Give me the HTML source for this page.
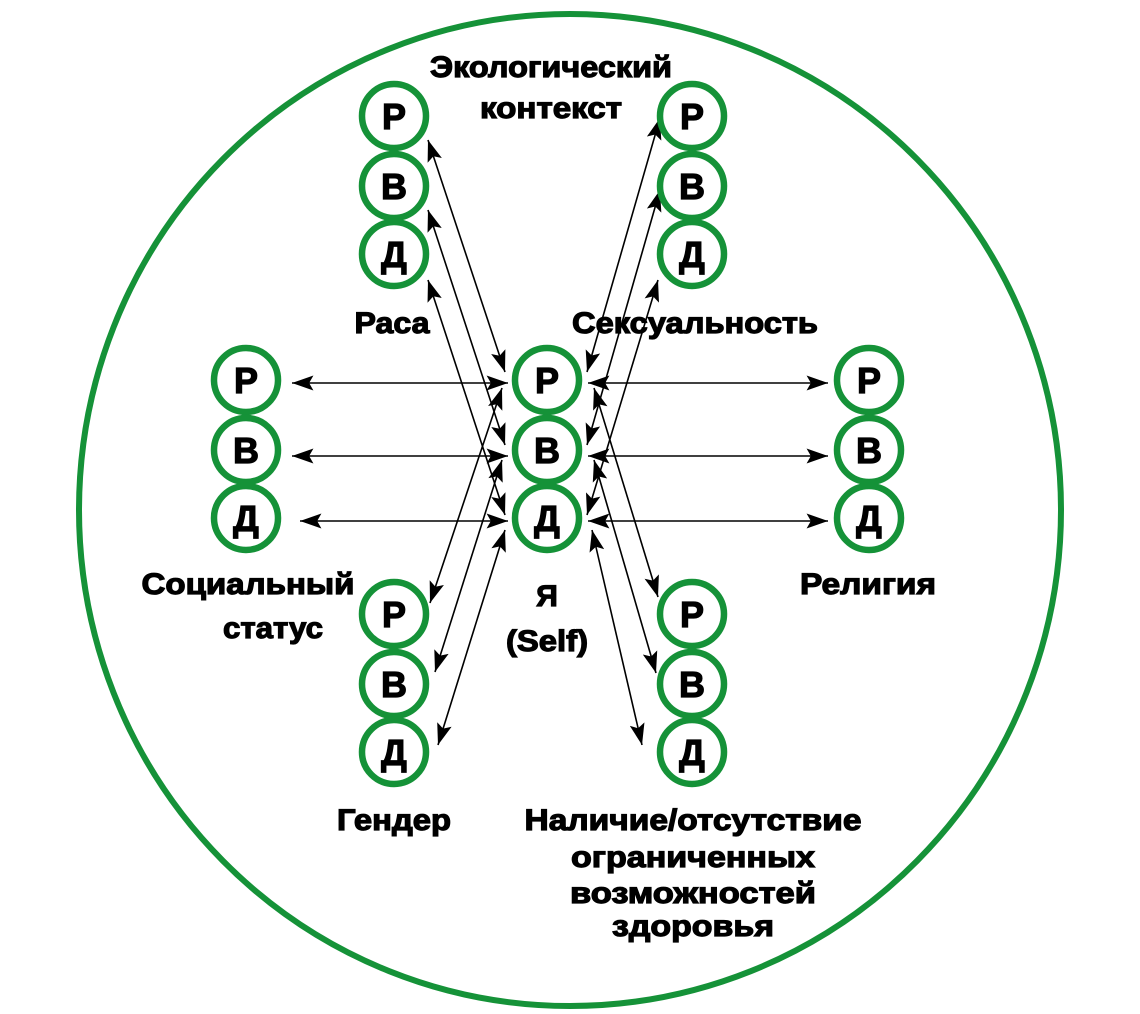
<!DOCTYPE html>
<html><head><meta charset="utf-8"><style>
html,body{margin:0;padding:0;background:#fff;}
svg{display:block}
text{font-family:"Liberation Sans","DejaVu Sans",sans-serif;font-weight:bold;fill:#000;stroke:#000;stroke-width:1.2;}
</style></head><body>
<svg width="1140" height="1014" viewBox="0 0 1140 1014" xmlns="http://www.w3.org/2000/svg">
<defs>
<marker id="a" viewBox="0 0 20 14" refX="20" refY="7" markerWidth="22" markerHeight="15" markerUnits="userSpaceOnUse" orient="auto-start-reverse">
<path d="M0,0 L20,7 L0,14 L4,7 z" fill="#000"/></marker>
<g id="st">
<circle cx="0" cy="0" r="32" fill="#fff" stroke="#159238" stroke-width="6.5"/>
<circle cx="0" cy="70" r="32" fill="#fff" stroke="#159238" stroke-width="6.5"/>
<circle cx="0" cy="138" r="32" fill="#fff" stroke="#159238" stroke-width="6.5"/>
<text x="0" y="13" font-size="36" text-anchor="middle">Р</text>
<text x="0" y="83" font-size="36" text-anchor="middle">В</text>
<text x="0" y="151" font-size="36" text-anchor="middle">Д</text>
</g>
</defs>
<ellipse cx="570" cy="510" rx="491" ry="496" fill="none" stroke="#159238" stroke-width="6"/>
<g stroke="#000" stroke-width="1.6" marker-start="url(#a)" marker-end="url(#a)">
<line x1="292" y1="383" x2="508" y2="383"/>
<line x1="292" y1="456" x2="508" y2="456"/>
<line x1="300" y1="521" x2="508" y2="521"/>
<line x1="588" y1="383" x2="828" y2="383"/>
<line x1="588" y1="456" x2="828" y2="456"/>
<line x1="588" y1="521" x2="828" y2="521"/>
<line x1="428" y1="140" x2="505" y2="372"/>
<line x1="428" y1="210" x2="505" y2="445"/>
<line x1="428" y1="280" x2="505" y2="515"/>
<line x1="660" y1="118" x2="587" y2="372"/>
<line x1="660" y1="190" x2="587" y2="445"/>
<line x1="658" y1="280" x2="587" y2="515"/>
<line x1="502" y1="388" x2="430" y2="603"/>
<line x1="502" y1="460" x2="435" y2="672"/>
<line x1="505" y1="530" x2="438" y2="745"/>
<line x1="594" y1="388" x2="658" y2="597"/>
<line x1="594" y1="460" x2="656" y2="673"/>
<line x1="592" y1="530" x2="642" y2="745"/>
</g>
<use href="#st" x="394" y="116"/>
<use href="#st" x="692" y="116"/>
<use href="#st" x="246" y="380"/>
<use href="#st" x="547" y="380"/>
<use href="#st" x="869" y="380"/>
<use href="#st" x="394" y="614"/>
<use href="#st" x="692" y="614"/>
<g font-size="30" text-anchor="middle">
<text x="551" y="77" textLength="242" lengthAdjust="spacingAndGlyphs">Экологический</text>
<text x="551" y="118" textLength="142" lengthAdjust="spacingAndGlyphs">контекст</text>
<text x="392" y="333" textLength="75" lengthAdjust="spacingAndGlyphs">Раса</text>
<text x="695" y="333" textLength="246" lengthAdjust="spacingAndGlyphs">Сексуальность</text>
<text x="248" y="594" textLength="213" lengthAdjust="spacingAndGlyphs">Социальный</text>
<text x="273" y="638" textLength="100" lengthAdjust="spacingAndGlyphs">статус</text>
<text x="868" y="594" textLength="136" lengthAdjust="spacingAndGlyphs">Религия</text>
<text x="547" y="606">Я</text>
<text x="547" y="651" textLength="82" lengthAdjust="spacingAndGlyphs">(Self)</text>
<text x="394" y="830" textLength="114" lengthAdjust="spacingAndGlyphs">Гендер</text>
<text x="693" y="830" textLength="337" lengthAdjust="spacingAndGlyphs">Наличие/отсутствие</text>
<text x="693" y="867" textLength="244" lengthAdjust="spacingAndGlyphs">ограниченных</text>
<text x="693" y="903" textLength="246" lengthAdjust="spacingAndGlyphs">возможностей</text>
<text x="693" y="936" textLength="162" lengthAdjust="spacingAndGlyphs">здоровья</text>
</g>
</svg>
</body></html>
